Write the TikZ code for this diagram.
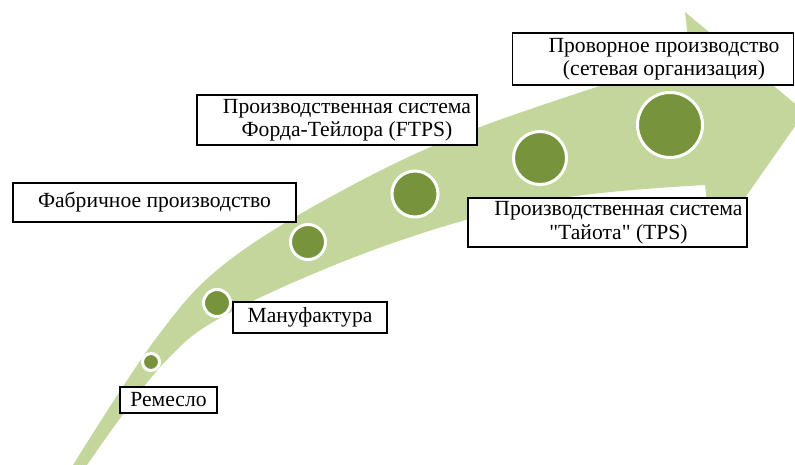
\documentclass[tikz,border=0pt]{standalone}
\usepackage{fontspec}
\setmainfont{Liberation Serif}[Ligatures=TeXOff]
\usetikzlibrary{positioning}
\definecolor{bandgreen}{HTML}{C3D69B}
\definecolor{leafgreen}{HTML}{77933C}

\begin{document}
\begin{tikzpicture}[
    x=1pt, y=-1pt,
    font=\fontsize{21.6}{23.5}\selectfont,
    band/.style={fill=bandgreen},
    dot/.style={circle, fill=leafgreen, draw=white, line width=3pt, inner sep=0pt},
    stage/.style={draw=black, line width=1.5pt, fill=white, inner sep=0pt, align=center},
]
    \useasboundingbox (0,0) rectangle (795,465);
    \clip (0,0) rectangle (795,465);

    % =====================================================================
    % ARROW
    % =====================================================================
    \fill[band] plot[smooth, tension=0.6] coordinates {(73,465) (157,337) (227,262)
            (347,188) (480,127) (690,57)}
        -- (685,12) -- (805,112) -- (712,245)
        -- plot[smooth, tension=0.6] coordinates {(705,185) (550,200) (390,244)
            (233,311) (163,364) (87,465)}
        -- cycle;

    % =====================================================================
    % MILESTONES
    % =====================================================================
    \node[dot, minimum size=17pt] (c1) at (151,362) {};
    \node[dot, minimum size=27pt] (c2) at (217,303) {};
    \node[dot, minimum size=35pt] (c3) at (308,242) {};
    \node[dot, minimum size=46pt] (c4) at (415,194) {};
    \node[dot, minimum size=53pt] (c5) at (540,158) {};
    \node[dot, minimum size=65pt] (c6) at (670,125) {};

    % =====================================================================
    % STAGES
    % =====================================================================
    \node[stage, minimum width=97pt, minimum height=26pt] (remeslo) at (168.5,400) {Ремесло};
    \node[stage, minimum width=154pt, minimum height=31pt] (manuf) at (310,317.5) {Мануфактура};
    \node[stage, minimum width=283pt, minimum height=39pt] (fabr) at (154.5,202.5) {Фабричное производство};
    \node[stage, minimum width=280pt, minimum height=50pt] (ftps) at (337,120)
        {\hspace*{20pt}Производственная система\\\hspace*{20pt}Форда-Тейлора (FTPS)};
    \node[stage, minimum width=279pt, minimum height=49pt] (tps) at (607.5,222.5)
        {\hspace*{22pt}Производственная система\\\hspace*{22pt}"Тайота" (TPS)};
    \node[stage, minimum width=281pt, minimum height=52pt] (prov) at (653,59)
        {\hspace*{22pt}Проворное производство\\\hspace*{22pt}(сетевая организация)};

\end{tikzpicture}
\end{document}
